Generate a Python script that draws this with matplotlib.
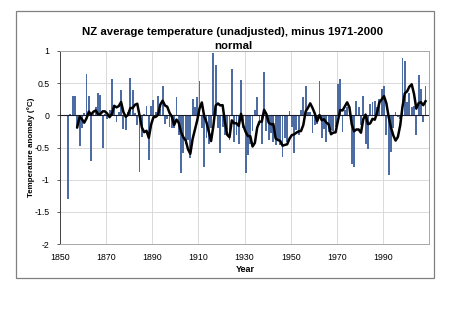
import matplotlib
matplotlib.use("Agg")
import matplotlib.pyplot as plt
import numpy as np
import pandas as pd
from matplotlib.patches import Rectangle

# annual anomalies (deg C), 1853-2008
years = list(range(1853, 2009))
anomaly = [
    -1.30, 0.02, 0.30, 0.30, -0.22, -0.48, -0.20,                         # 1853-1859
    0.03, 0.64, 0.30, -0.71, 0.02, 0.13, 0.35, 0.31, -0.50, 0.02,         # 1860s
    -0.05, 0.08, 0.56, 0.13, -0.10, 0.05, 0.39, -0.22, -0.23, 0.05,       # 1870s
    0.58, 0.39, 0.03, -0.15, -0.88, -0.33, 0.02, 0.14, -0.70, 0.15,       # 1880s
    0.24, 0.05, 0.30, 0.10, 0.45, -0.13, -0.05, -0.18, -0.19, -0.20,      # 1890s
    0.29, -0.31, -0.90, -0.59, -0.44, -0.39, -0.67, 0.25, 0.13, 0.29,     # 1900s
    0.53, -0.20, -0.80, -0.36, -0.44, -0.20, 0.97, 0.79, -0.20, -0.59,    # 1910s
    -0.18, -0.31, -0.23, -0.39, 0.72, -0.41, -0.30, -0.44, 0.55, -0.20,   # 1920s
    -0.90, -0.62, -0.45, -0.25, 0.08, 0.28, -0.15, -0.45, 0.67, -0.25,    # 1930s
    -0.39, -0.28, -0.42, -0.46, -0.37, -0.46, -0.65, -0.36, -0.41, 0.06,  # 1940s
    -0.18, -0.59, -0.23, -0.30, 0.08, 0.29, 0.46, 0.05, 0.05, -0.28,      # 1950s
    -0.15, -0.13, 0.54, -0.36, -0.21, -0.41, -0.26, -0.23, -0.24, -0.18,  # 1960s
    0.49, 0.57, -0.26, 0.08, 0.13, 0.10, -0.75, -0.80, 0.22, 0.13,        # 1970s
    -0.15, 0.30, -0.44, -0.52, 0.18, 0.21, 0.23, 0.13, 0.26, 0.41,        # 1980s
    0.46, -0.31, -0.93, -0.57, -0.20, 0.05, -0.03, -0.05, 0.89, 0.85,     # 1990s
    0.20, 0.34, 0.13, 0.15, -0.30, 0.63, 0.41, -0.10, 0.46,               # 2000-2008
]

x_ticks = [1850, 1870, 1890, 1910, 1930, 1950, 1970, 1990]
y_ticks = [1, 0.5, 0, -0.5, -1, -1.5, -2]

plt.rcParams["font.family"] = ["Liberation Sans", "DejaVu Sans"]

yrs = np.array(years)
vals = np.array(anomaly)
smooth = pd.Series(vals).rolling(5).mean()

fig = plt.figure(figsize=(4.5, 3.1), dpi=100)
fig.patch.set_facecolor("white")

# outer chart border
fig.patches.append(Rectangle((16 / 450, 1 - 278 / 310), 418 / 450, 267 / 310,
                             transform=fig.transFigure, fill=False,
                             edgecolor="#808080", linewidth=0.9))

ax = fig.add_axes([60 / 450, 1 - 244 / 310, 369 / 450, 193 / 310])

ax.bar(yrs + 0.5, vals, width=0.8, color="#4d6ca3", edgecolor="none", zorder=2)
ax.axhline(0, color="#1a1a2a", linewidth=0.8, zorder=3)
ax.plot(yrs + 0.5, smooth, color="black", linewidth=1.8, zorder=4)

ax.set_xlim(1850, 2010)
ax.set_ylim(-2, 1)
ax.set_xticks(x_ticks)
ax.set_yticks(y_ticks)
ax.set_yticklabels([("%g" % v).replace("\u2212", "-") for v in y_ticks])
ax.grid(True, color="#d4d4d4", linewidth=0.6, zorder=0)
ax.set_axisbelow(True)

ax.tick_params(axis="x", length=0, pad=6.5, labelsize=6.3)
ax.tick_params(axis="y", length=2.5, width=0.6, pad=5, labelsize=6.3, color="#404040")
for side in ["top", "right", "bottom"]:
    ax.spines[side].set_color("#a8a8a8")
    ax.spines[side].set_linewidth(0.7)
ax.spines["left"].set_color("#404040")
ax.spines["left"].set_linewidth(0.7)

fig.text(233 / 450, 1 - 32 / 310, "NZ average temperature (unadjusted), minus 1971-2000",
         ha="center", va="center", fontsize=8.2, fontweight="bold")
fig.text(233 / 450, 1 - 46 / 310, "normal",
         ha="center", va="center", fontsize=8.2, fontweight="bold")
fig.text(245 / 450, 1 - 269 / 310, "Year", ha="center", va="center",
         fontsize=6.5, fontweight="bold")
fig.text(31 / 450, 1 - 147 / 310, "Temperature anomaly (\u00b0C)", ha="center",
         va="center", rotation=90, fontsize=5.8, fontweight="bold")

fig.savefig("out.png", dpi=100)
